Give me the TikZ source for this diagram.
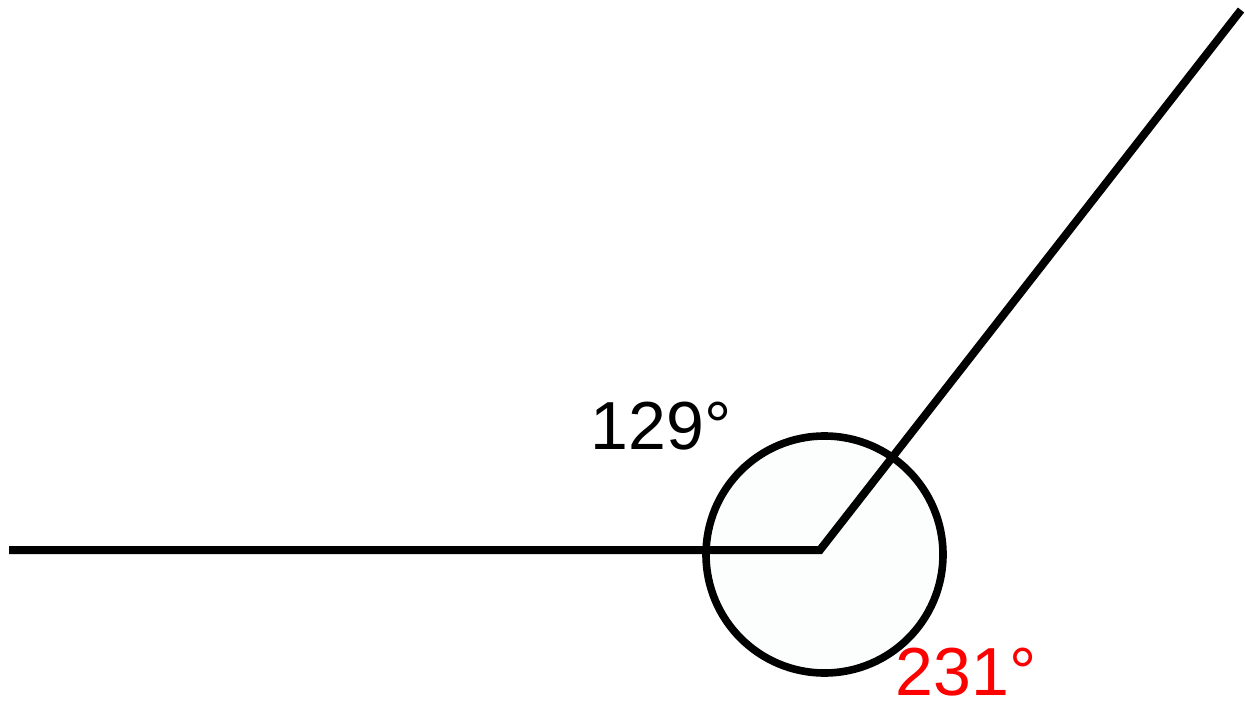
\documentclass[tikz,border=0pt]{standalone}
\usepackage{fontspec}
\setmainfont{Liberation Sans}
\usepackage{xcolor}
\definecolor{anglefill}{RGB}{251,254,253}
\definecolor{anglered}{RGB}{255,0,0}

\begin{document}
\begin{tikzpicture}[x=0.5pt,y=-0.5pt,
    ray/.style={line width=4pt},
    deg/.style={inner sep=0pt,anchor=base,text depth=0pt,font=\fontsize{34}{40}\selectfont}]
      \useasboundingbox (0,0) rectangle (1245,710);
      \coordinate (V) at (820,550);
      \coordinate (L) at (9,550);
      \coordinate (R) at (1241,10);
      \node (C) [circle,draw,line width=3.8pt,fill=anglefill,minimum size=118.5pt,inner sep=0pt] at (824.5,554.5) {};
      \draw [ray] (L) to (V) to (R);
      \node (A) [deg] at (661,449) {129°};
      \node (B) [deg,text=anglered] at (966,695) {231°};
    \end{tikzpicture}
\end{document}
